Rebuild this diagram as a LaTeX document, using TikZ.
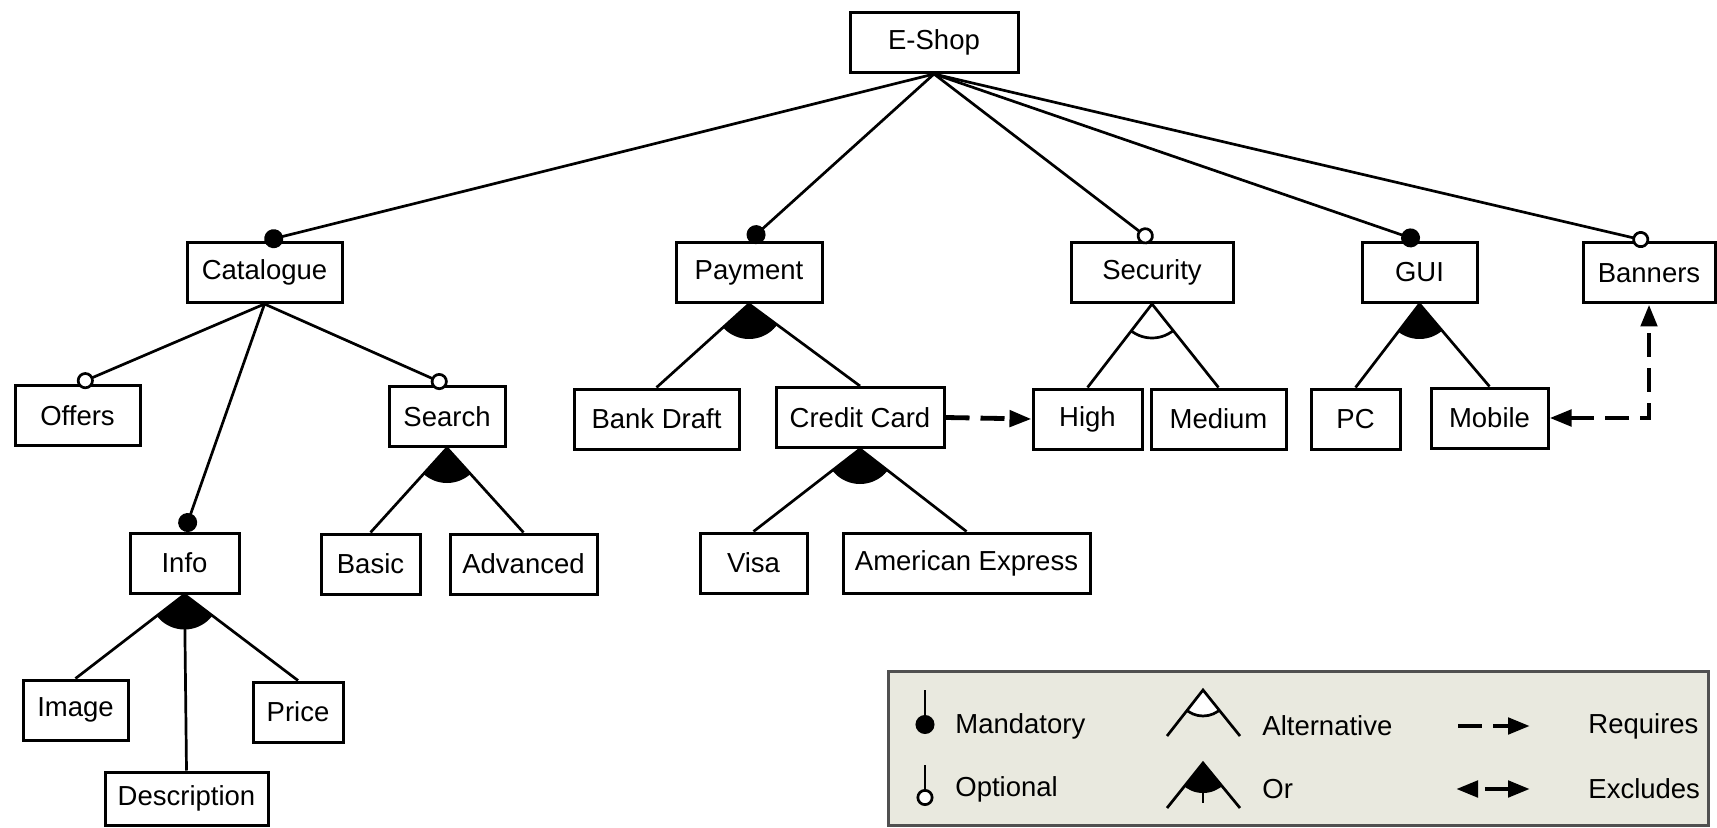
\documentclass[tikz,border=0pt]{standalone}
\usepackage{fontspec}
\setmainfont{Liberation Sans}
\usetikzlibrary{arrows.meta}

\definecolor{legendbg}{RGB}{233,233,223}
\definecolor{legendline}{RGB}{80,80,80}

\newcommand{\orfan}[3]{%
  \begin{scope}
    \clip (#1.south) -- (#2.north) -- (#3.north) -- cycle;
    \fill (#1.south) circle (17.5pt);
  \end{scope}}
\newcommand{\altfan}[3]{%
  \begin{scope}
    \clip (#1.south) -- (#2.north) -- (#3.north) -- cycle;
    \draw[link] (#1.south) circle (17pt);
  \end{scope}}

\tikzset{
  feat/.style={draw, line width=1.5pt, minimum height=30pt, inner sep=0pt,
    font=\fontsize{13.75}{16}\selectfont},
  link/.style={line width=1.35pt},
  mand/.style={link, -{Circle[length=9.5pt]}},
  opt/.style={link, -{Circle[open, length=8.5pt, fill=white]}},
  req/.style={line width=2.4pt, dash pattern=on 12pt off 5.5pt,
    -{Triangle[length=11pt, width=8pt]}},
  excl/.style={req, {Triangle[length=11pt, width=8pt]}-{Triangle[length=11pt, width=8pt]}},
  legtext/.style={anchor=west, inner sep=0pt, font=\fontsize{13.75}{16}\selectfont}
}

\begin{document}
\begin{tikzpicture}[x=0.5pt, y=-0.5pt]
  \useasboundingbox (0,0) rectangle (1717,828);

  \node[feat, minimum width=84pt] (eshop) at (934,42.5) {E-Shop};

  \node[feat, minimum width=77.5pt] (cat) at (264.5,272.5) {Catalogue};
  \node[feat, minimum width=73pt] (pay) at (749,272.5) {Payment};
  \node[feat, minimum width=81pt] (sec) at (1152,272.5) {Security};
  \node[feat, minimum width=57.5pt] (gui) at (1419.5,272.5) {GUI};
  \node[feat, minimum width=66pt] (ban) at (1649,273) {Banners};

  \node[feat, minimum width=62.5pt] (off) at (77.5,415.5) {Offers};
  \node[feat, minimum width=58pt] (srch) at (447,416.5) {Search};
  \node[feat, minimum width=82.5pt] (bank) at (656.5,419) {Bank Draft};
  \node[feat, minimum width=84pt] (cc) at (860,417.5) {Credit Card};
  \node[feat, minimum width=54.5pt] (high) at (1087.5,419) {High};
  \node[feat, minimum width=67.5pt] (med) at (1218.5,419) {Medium};
  \node[feat, minimum width=44.5pt] (pc) at (1355.5,419) {PC};
  \node[feat, minimum width=58.5pt] (mob) at (1489.5,418) {Mobile};

  \node[feat, minimum width=54.5pt] (info) at (184.5,563) {Info};
  \node[feat, minimum width=49.5pt] (basic) at (370.5,564) {Basic};
  \node[feat, minimum width=73.5pt] (adv) at (523.5,564) {Advanced};
  \node[feat, minimum width=53.5pt] (visa) at (753.5,563) {Visa};
  \node[feat, minimum width=123.5pt] (amex) at (966.5,563) {American Express};

  \node[feat, minimum width=52.5pt] (img) at (75.5,710) {Image};
  \node[feat, minimum width=45pt] (price) at (298,712) {Price};
  \node[feat, minimum width=81.5pt, minimum height=26.5pt] (desc) at (186.5,798.5) {Description};

  \draw[mand] (eshop.south) -- (cat.north);
  \draw[mand] (eshop.south) -- (pay.north);
  \draw[opt] (eshop.south) -- (sec.north);
  \draw[mand] (eshop.south) -- (gui.north);
  \draw[opt] (eshop.south) -- (ban.north);

  \draw[opt] (cat.south) -- (off.north);
  \draw[mand] (cat.south) -- (info.north);
  \draw[opt] (cat.south) -- (srch.north);

  \orfan{pay}{bank}{cc}
  \foreach \c in {bank,cc} \draw[link] (pay.south) -- (\c.north);
  \altfan{sec}{high}{med}
  \foreach \c in {high,med} \draw[link] (sec.south) -- (\c.north);
  \orfan{gui}{pc}{mob}
  \foreach \c in {pc,mob} \draw[link] (gui.south) -- (\c.north);
  \orfan{srch}{basic}{adv}
  \foreach \c in {basic,adv} \draw[link] (srch.south) -- (\c.north);
  \orfan{cc}{visa}{amex}
  \foreach \c in {visa,amex} \draw[link] (cc.south) -- (\c.north);
  \orfan{info}{img}{price}
  \foreach \c in {img,desc,price} \draw[link] (info.south) -- (\c.north);

  \draw[req] (cc.east) -- (high.west);
  \coordinate (bend) at (ban.south |- mob.east);
  \draw[excl] (mob.east) -- (bend) -- (ban.south);

  % legend
  \draw[legendline, line width=1.5pt, fill=legendbg] (888,671) rectangle (1708,825);
  \draw[mand] (925,690) -- (925,734);
  \draw[opt] (925,765) -- (925,806);
  \node[legtext] (lmand) at (955,726) {Mandatory};
  \node[legtext] (lopt) at (955,789) {Optional};

  \begin{scope}
    \clip (1203,690) -- (1167,736) -- (1240,736) -- cycle;
    \filldraw[link, fill=white] (1203,690) circle (13pt);
  \end{scope}
  \draw[link] (1167,736) -- (1203,690) -- (1240,736);
  \begin{scope}
    \clip (1203,763) -- (1167,808) -- (1240,808) -- cycle;
    \fill (1203,763) circle (15pt);
  \end{scope}
  \draw[link] (1167,808) -- (1203,763) -- (1240,808);
  \draw[link] (1203,763) -- (1203,803);
  \node[legtext] (lalt) at (1262,726) {Alternative};
  \node[legtext] (lor) at (1262,789) {Or};

  \draw[req] (1458,726) -- (1530,726);
  \draw[excl, dash pattern=on 0pt off 4pt on 20pt] (1456,789) -- (1530,789);
  \node[legtext] (lreq) at (1588,726) {Requires};
  \node[legtext] (lexc) at (1588,789) {Excludes};
\end{tikzpicture}
\end{document}
